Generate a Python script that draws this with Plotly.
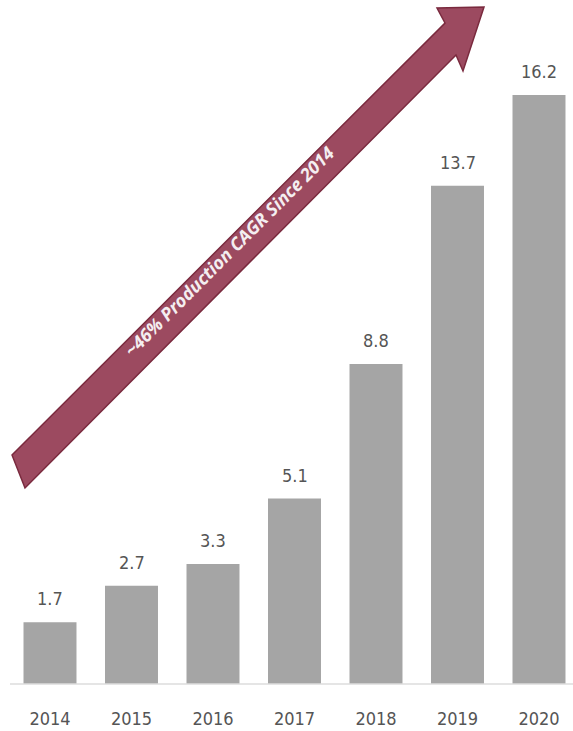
import plotly.graph_objects as go

years = ["2014", "2015", "2016", "2017", "2018", "2019", "2020"]
production = [1.7, 2.7, 3.3, 5.1, 8.8, 13.7, 16.2]
value_labels = ["1.7", "2.7", "3.3", "5.1", "8.8", "13.7", "16.2"]
arrow_text = "~46% Production CAGR Since 2014"

W, H = 573, 731
PLOT_H = 684  # plot area height in px (bottom margin 47)

def px(x, y):
    """pixel position in the page -> paper coords (plot area fills width, top 684px)"""
    return x / W, 1 - y / PLOT_H

fig = go.Figure()
fig.add_trace(go.Bar(
    x=list(range(len(years))), y=production,
    width=0.65, marker=dict(color="#a5a5a5", line=dict(width=0)),
    hoverinfo="skip",
))

label_font = dict(family="Liberation Sans Narrow, DejaVu Sans Condensed, Lato, sans-serif",
                  size=18, color="#555555")

for i, (v, t) in enumerate(zip(production, value_labels)):
    fig.add_annotation(x=i, y=v, text=t, showarrow=False, yanchor="bottom",
                       yshift=11, font=label_font)

# arrow polygon (decoration)
pts = [(12, 455), (445, 23), (437, 8), (484, 7), (463, 71), (456, 55), (25, 488)]
path = ""
for k, (x, y) in enumerate(pts):
    X, Y = px(x, y)
    path += ("M" if k == 0 else "L") + f" {X:.5f} {Y:.5f} "
path += "Z"
fig.add_shape(type="path", path=path, xref="paper", yref="paper",
              fillcolor="#9c4a60", line=dict(color="#7a2a3e", width=1.5), layer="above")

tx, ty = px(229, 251)
fig.add_annotation(x=tx, y=ty, xref="paper", yref="paper", text=f"<b><i>{arrow_text}</i></b>",
                   showarrow=False, textangle=-45,
                   font=dict(family="Open Sans, sans-serif", size=18, color="#f4eef0"))

# baseline
x0, y0 = px(10, PLOT_H)
fig.add_shape(type="line", xref="paper", yref="paper", x0=x0, x1=1, y0=0, y1=0,
              line=dict(color="#dcdcdc", width=1.5), layer="above")

fig.update_layout(
    width=W, height=H,
    margin=dict(l=0, r=0, t=0, b=H - PLOT_H),
    plot_bgcolor="white", paper_bgcolor="white",
    showlegend=False,
    xaxis=dict(range=[-50 / 81.5, (W - 50) / 81.5], tickmode="array",
               tickvals=list(range(len(years))), ticktext=years,
               ticks="outside", ticklen=18, tickcolor="rgba(0,0,0,0)",
               showgrid=False, zeroline=False, showline=False,
               tickfont=label_font, fixedrange=True),
    yaxis=dict(range=[0, PLOT_H / 36.36], visible=False, showgrid=False,
               zeroline=False, fixedrange=True),
)

fig.write_html("out.html", post_script="document.body.style.margin='0px';document.body.style.overflow='hidden';",
               config={"displayModeBar": False})
